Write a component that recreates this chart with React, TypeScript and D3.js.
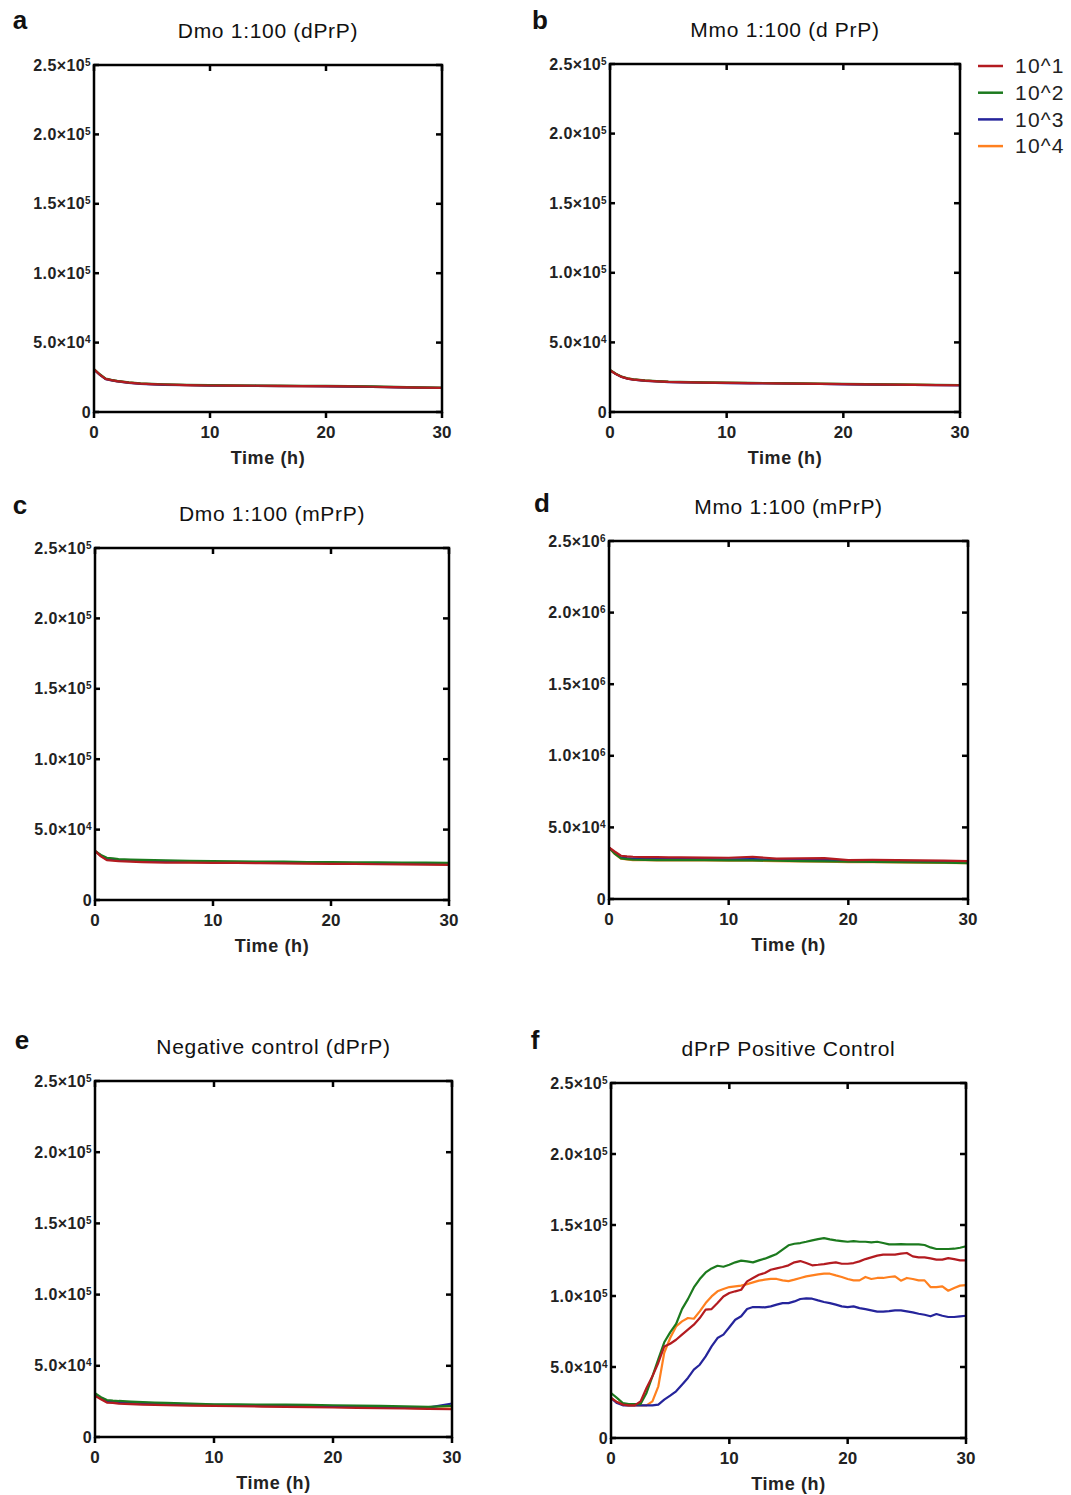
import React from "react";
import * as d3 from "d3";

// legend / series
const seriesNames = ["10^1", "10^2", "10^3", "10^4"];
const seriesColors = ["#b31b20", "#1c7a1e", "#25249b", "#ff801f"];

// time grids (h)
const timeFlat = [0, 0.5, 1, 1.5, 2, 3, 4, 5, 6, 8, 10, 12, 14, 16, 18, 20, 22, 24, 26, 28, 30];
const timeF = [
  0, 0.5, 1, 1.5, 2, 2.5, 3, 3.5, 4, 4.5, 5, 5.5, 6, 6.5, 7, 7.5, 8, 8.5, 9, 9.5,
  10, 10.5, 11, 11.5, 12, 12.5, 13, 13.5, 14, 14.5, 15, 15.5, 16, 16.5, 17, 17.5, 18, 18.5, 19, 19.5,
  20, 20.5, 21, 21.5, 22, 22.5, 23, 23.5, 24, 24.5, 25, 25.5, 26, 26.5, 27, 27.5, 28, 28.5, 29, 29.5, 30,
];

// a: Dmo 1:100 (dPrP)  -- [10^1, 10^2, 10^3, 10^4]
const dmoD = [
  [30700, 27000, 23900, 23000, 22200, 21200, 20500, 20100, 19800, 19400, 19100, 19000, 18900, 18800, 18700, 18600, 18400, 18200, 17900, 17600, 17400],
  [30900, 27200, 24100, 23200, 22400, 21400, 20700, 20300, 20000, 19600, 19300, 19200, 19100, 19000, 18900, 18800, 18600, 18400, 18100, 17800, 17600],
  [30500, 26800, 23700, 22800, 22000, 21000, 20300, 19900, 19600, 19300, 19000, 18900, 18800, 18700, 18600, 18500, 18300, 18100, 17800, 17500, 17300],
  [30600, 26900, 23800, 22900, 22100, 21100, 20400, 20000, 19700, 19400, 19000, 18900, 18800, 18700, 18600, 18500, 18300, 18100, 17800, 17500, 17300],
];

// b: Mmo 1:100 (d PrP)
const mmoD = [
  [30000, 27300, 25200, 24000, 23300, 22500, 22000, 21600, 21400, 21100, 20900, 20700, 20600, 20400, 20200, 20000, 19800, 19600, 19500, 19300, 19200],
  [30200, 27500, 25400, 24200, 23500, 22700, 22200, 21800, 21600, 21300, 21100, 20900, 20800, 20600, 20400, 20200, 20000, 19800, 19700, 19500, 19400],
  [29900, 27200, 25100, 23900, 23200, 22400, 21900, 21500, 21300, 21000, 20800, 20600, 20500, 20300, 20100, 19900, 19700, 19500, 19400, 19200, 19100],
  [30100, 27400, 25300, 24100, 23400, 22600, 22100, 21700, 21500, 21200, 21000, 20800, 20700, 20500, 20300, 20100, 19900, 19700, 19600, 19400, 19300],
];

// c: Dmo 1:100 (mPrP)
const dmoM = [
  [34900, 31000, 28300, 27900, 27600, 27200, 26900, 26700, 26600, 26500, 26400, 26300, 26200, 26000, 25900, 25700, 25600, 25400, 25300, 25100, 25000],
  [34900, 32000, 30000, 29500, 29000, 28700, 28500, 28300, 28100, 27800, 27600, 27500, 27300, 27200, 27000, 26900, 26800, 26700, 26600, 26500, 26400],
  [34800, 31500, 29000, 28600, 28200, 27900, 27600, 27400, 27300, 27100, 27000, 26900, 26700, 26600, 26400, 26300, 26200, 26000, 25900, 25800, 25700],
  [34700, 31300, 28800, 28400, 28000, 27700, 27400, 27200, 27100, 26900, 26800, 26700, 26500, 26400, 26200, 26100, 26000, 25800, 25700, 25600, 25500],
];

// d: Mmo 1:100 (mPrP)
const mmoM = [
  [36000, 33000, 30200, 29800, 29500, 29300, 29200, 29100, 29000, 28900, 28800, 29500, 28200, 28300, 28500, 27200, 27300, 27200, 27000, 26800, 26500],
  [36000, 31500, 28400, 27900, 27400, 27300, 27200, 27200, 27200, 27100, 27000, 27000, 26700, 26400, 26300, 26000, 25900, 25800, 25600, 25400, 25100],
  [36000, 32000, 29000, 28600, 28300, 28100, 28000, 27900, 27900, 27800, 27700, 27800, 27400, 27200, 27300, 26500, 26500, 26400, 26200, 26000, 25800],
  [35800, 31300, 28200, 27700, 27200, 27100, 27000, 27000, 27000, 26900, 26800, 26800, 26500, 26200, 26100, 25800, 25700, 25600, 25400, 25200, 25000],
];

// e: Negative control (dPrP)
const negCtrl = [
  [28900, 26500, 24200, 23900, 23500, 23100, 22800, 22500, 22300, 22000, 21800, 21600, 21400, 21200, 21000, 20700, 20500, 20200, 20000, 19700, 19500],
  [30700, 28000, 26000, 25600, 25300, 24900, 24500, 24200, 24000, 23500, 23000, 22900, 22800, 22700, 22500, 22300, 22000, 21800, 21500, 21100, 21800],
  [30000, 27500, 25400, 25000, 24700, 24300, 24000, 23700, 23500, 23000, 22600, 22400, 22200, 22100, 21900, 21700, 21400, 21200, 20900, 20600, 23500],
  [29500, 27000, 24900, 24500, 24200, 23800, 23500, 23200, 23000, 22600, 22200, 22000, 21800, 21600, 21400, 21200, 20900, 20700, 20400, 20100, 20000],
];

// f: dPrP Positive Control
const posRed = [
  28200, 25300, 23500, 23000, 23000, 25800, 35200, 43400, 53000, 64500, 66400, 69200, 72800, 76300, 79800, 84500, 90400, 90800, 95000, 99700,
  102100, 103300, 104400, 110300, 112700, 115000, 116200, 118500, 119500, 120400, 121600, 123700, 124600, 123200, 121600, 122000, 122500, 123200, 123700, 122700,
  122700, 123200, 124400, 126000, 127200, 128400, 129100, 129100, 129100, 129800, 130300, 127900, 127200, 127200, 126500, 125600, 125600, 126700, 126000, 125100, 125100,
];
const posGreen = [
  31700, 28200, 24600, 23900, 23900, 23900, 31700, 43400, 55600, 67400, 74400, 80300, 90800, 97800, 106000, 111900, 116600, 119400, 121300, 120600,
  122000, 123700, 124900, 124400, 123700, 125100, 126300, 127900, 129600, 132600, 135700, 136800, 137300, 138200, 139200, 140100, 140800, 139900, 139200, 138700,
  138200, 138700, 138200, 138200, 137800, 138200, 137300, 136400, 136400, 136600, 136400, 136400, 136400, 135900, 134200, 133100, 133100, 133100, 133300, 134000, 135000,
];
const posBlue = [
  28200, 24600, 23000, 23000, 23000, 23000, 23000, 23000, 23500, 27000, 29800, 32900, 37500, 42300, 48100, 51600, 57500, 64500, 70400, 72800,
  78000, 83300, 85700, 90800, 92200, 92200, 92000, 92700, 93900, 95000, 95000, 96200, 97900, 98300, 98100, 96900, 95800, 95000, 93900, 92700,
  92200, 92700, 91500, 90800, 89900, 89000, 89000, 89400, 89900, 89900, 89200, 88500, 87500, 86800, 85700, 87300, 86100, 85200, 85200, 85700, 86100,
];
const posOrange = [
  28200, 25300, 23500, 23000, 23000, 23000, 23000, 25800, 36400, 60000, 70400, 78600, 82100, 84500, 84000, 89200, 95000, 99700, 103300, 104900,
  106300, 106800, 107300, 108400, 109600, 110800, 111500, 112000, 112000, 111000, 110500, 111500, 112700, 113800, 114500, 115200, 115700, 115700, 114500, 113400,
  112000, 111000, 111000, 113400, 112000, 112700, 112700, 113400, 113800, 110800, 112700, 112000, 111000, 111000, 106300, 106300, 106800, 103700, 105600, 107300, 107700,
];

// axis ticks
const xTicks = [0, 10, 20, 30];
const yTicks = [0, 50000, 100000, 150000, 200000, 250000];
const yLabels5 = [["0", ""], ["5.0×10", "4"], ["1.0×10", "5"], ["1.5×10", "5"], ["2.0×10", "5"], ["2.5×10", "5"]];
const yLabels6 = [["0", ""], ["5.0×10", "4"], ["1.0×10", "6"], ["1.5×10", "6"], ["2.0×10", "6"], ["2.5×10", "6"]];

const panels = [
  { letter: "a", title: "Dmo 1:100 (dPrP)", time: timeFlat, data: dmoD, yLabels: yLabels5,
    x0: 94, x1: 442, y0: 65, y1: 412, lx: 20, ly: 20, legend: false },
  { letter: "b", title: "Mmo 1:100 (d PrP)", time: timeFlat, data: mmoD, yLabels: yLabels5,
    x0: 610, x1: 960, y0: 64, y1: 412, lx: 540, ly: 20, legend: true },
  { letter: "c", title: "Dmo 1:100 (mPrP)", time: timeFlat, data: dmoM, yLabels: yLabels5,
    x0: 95, x1: 449, y0: 548, y1: 900, lx: 20, ly: 505, legend: false },
  { letter: "d", title: "Mmo 1:100 (mPrP)", time: timeFlat, data: mmoM, yLabels: yLabels6,
    x0: 609, x1: 968, y0: 541, y1: 899, lx: 542, ly: 503, legend: false },
  { letter: "e", title: "Negative control (dPrP)", time: timeFlat, data: negCtrl, yLabels: yLabels5,
    x0: 95, x1: 452, y0: 1081, y1: 1437, lx: 22, ly: 1040, legend: false },
  { letter: "f", title: "dPrP Positive Control", time: timeF, data: [posRed, posGreen, posBlue, posOrange], yLabels: yLabels5,
    x0: 611, x1: 966, y0: 1083, y1: 1438, lx: 535, ly: 1040, legend: false },
];

const FONT = "'Liberation Sans', Arial, sans-serif";
const drawOrder = [3, 2, 1, 0];

function Panel({ p }: { p: any }) {
  const x = d3.scaleLinear().domain([0, 30]).range([p.x0, p.x1]);
  const y = d3.scaleLinear().domain([0, 250000]).range([p.y1, p.y0]);
  const line = d3.line<number>()
    .x((_, i) => x(p.time[i]))
    .y((v) => y(v));

  return (
    <g>
      <text x={p.lx} y={p.ly} fontFamily={FONT} fontWeight="bold" fontSize={26}
        textAnchor="middle" dominantBaseline="central" fill="#111">{p.letter}</text>
      <text x={(p.x0 + p.x1) / 2} y={p.y0 - 35} fontFamily={FONT} fontSize={21} letterSpacing={0.7}
        textAnchor="middle" dominantBaseline="central" fill="#111">{p.title}</text>

      {drawOrder.map((k) => (
        <path key={k} d={line(p.data[k]) || ""} fill="none" stroke={seriesColors[k]}
          strokeWidth={2.2} strokeLinejoin="round" />
      ))}

      {/* frame */}
      <rect x={p.x0} y={p.y0} width={p.x1 - p.x0} height={p.y1 - p.y0}
        fill="none" stroke="#000" strokeWidth={2.5} />

      {yTicks.map((t, i) => (
        <g key={"y" + t}>
          <line x1={p.x0} x2={p.x0 + 5} y1={y(t)} y2={y(t)} stroke="#000" strokeWidth={2.5} />
          <line x1={p.x1} x2={p.x1 - 6} y1={y(t)} y2={y(t)} stroke="#000" strokeWidth={2.5} />
          <text x={p.x0 - 3} y={y(t)} dy="0.35em" textAnchor="end" fontFamily={FONT}
            fontWeight="bold" fontSize={16} letterSpacing={0.4} fill="#222">
            <tspan>{p.yLabels[i][0]}</tspan>
            {p.yLabels[i][1] && <tspan dy="-0.5em" fontSize={10}>{p.yLabels[i][1]}</tspan>}
          </text>
        </g>
      ))}

      {xTicks.map((t) => (
        <g key={"x" + t}>
          <line x1={x(t)} x2={x(t)} y1={p.y1} y2={p.y1 + 6} stroke="#000" strokeWidth={2.5} />
          <line x1={x(t)} x2={x(t)} y1={p.y0} y2={p.y0 + 6} stroke="#000" strokeWidth={2.5} />
          <text x={x(t)} y={p.y1 + 20} dy="0.35em" textAnchor="middle" fontFamily={FONT}
            fontWeight="bold" fontSize={17} fill="#222">{t}</text>
        </g>
      ))}
      <text x={(p.x0 + p.x1) / 2} y={p.y1 + 46} dy="0.35em" textAnchor="middle"
        fontFamily={FONT} fontWeight="bold" fontSize={18} letterSpacing={0.6} fill="#222">Time (h)</text>

      {p.legend && seriesNames.map((n, i) => (
        <g key={n} transform={`translate(${p.x1 + 18},${p.y0 + 2 + i * 26.7})`}>
          <line x1={0} x2={25} y1={0} y2={0} stroke={seriesColors[i]} strokeWidth={2.5} />
          <text x={37} y={0} dy="0.35em" fontFamily={FONT} fontSize={21} letterSpacing={1.2} fill="#222">{n}</text>
        </g>
      ))}
    </g>
  );
}

export default function App() {
  return (
    <svg width={1071} height={1495} style={{ position: "absolute", left: 0, top: 0, background: "#fff" }}>
      {panels.map((p) => <Panel key={p.letter} p={p} />)}
    </svg>
  );
}
